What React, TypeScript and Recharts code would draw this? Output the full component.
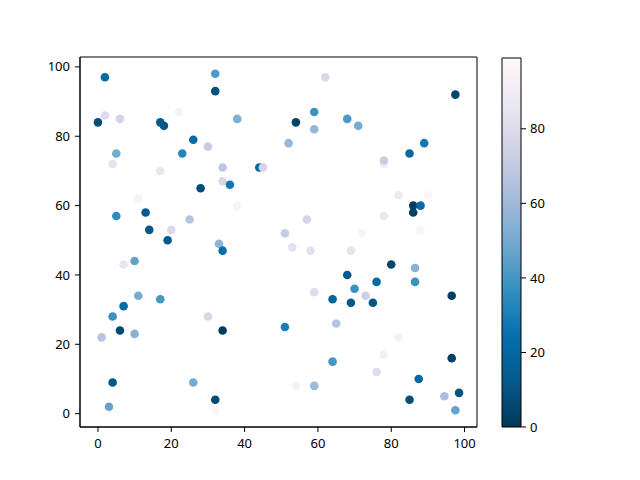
import { ScatterChart, Scatter, XAxis, YAxis, ReferenceArea, ComposedChart } from 'recharts'

// scatter positions and colour values (0..99)
const xs = [
  1.9, 32, 32, 22, 1.9, 0, 6, 17, 18, 38, 26, 30, 5, 23, 4, 34, 44, 45, 17, 34,
  36, 28, 11, 38, 5, 13, 25, 14, 20, 19, 33, 34, 7, 10, 11, 17, 7, 4, 30, 6,
  10, 1, 34, 4, 26, 32, 3, 32, 62, 97.5, 54, 59, 59, 68, 71, 52, 89, 85, 78, 78,
  82, 90, 86, 88, 86, 78, 57, 72, 88, 51, 53, 58, 69, 80, 86.5, 68, 76, 86.5, 70, 59,
  73, 64, 69, 75, 96.5, 51, 65, 82, 78, 96.5, 64, 76, 87.5, 54, 59, 98.5, 94.5, 85, 97.5,
]
const ys = [
  97, 98, 93, 87, 86, 84, 85, 84, 83, 85, 79, 77, 75, 75, 72, 71, 71, 71, 70, 67,
  66, 65, 62, 60, 57, 58, 56, 53, 53, 50, 49, 47, 43, 44, 34, 33, 31, 28, 28, 24,
  23, 22, 24, 9, 9, 4, 2, 1, 97, 92, 84, 87, 82, 85, 83, 78, 78, 75, 72, 73,
  63, 63, 60, 60, 58, 57, 56, 52, 53, 52, 48, 47, 47, 43, 42, 40, 38, 38, 36, 35,
  34, 33, 32, 32, 34, 25, 26, 22, 17, 16, 15, 12, 10, 8, 8, 6, 5, 4, 1,
]
const cs = [
  22, 42, 10, 95, 80, 8, 75, 14, 11, 53, 22, 72, 50, 33, 84, 68, 20, 76, 85, 78,
  28, 8, 94, 95, 35, 13, 66, 12, 79, 12, 57, 24, 85, 46, 50, 40, 22, 38, 77, 6,
  55, 67, 2, 12, 50, 6, 47, 98, 78, 5, 4, 38, 58, 42, 50, 58, 28, 20, 90, 72,
  88, 97, 2, 22, 3, 86, 76, 96, 96, 71, 82, 83, 84, 5, 55, 12, 20, 38, 37, 80,
  73, 17, 12, 11, 3, 30, 66, 93, 92, 3, 40, 80, 19, 93, 60, 10, 63, 8, 47,
]

const xTicks = [0, 20, 40, 60, 80, 100]
const yTicks = [0, 20, 40, 60, 80, 100]
const cbTicks = [0, 20, 40, 60, 80]

// PuBu, reversed below (low values dark)
const PUBU = ['#fff7fb', '#ece7f2', '#d0d1e6', '#a6bddb', '#74a9cf', '#3690c0', '#0570b0', '#045a8d', '#023858']
const VMAX = 99

const hex = (h: string) => [1, 3, 5].map(i => parseInt(h.slice(i, i + 2), 16))

const cmap = (v: number): string => {
  const t = 1 - Math.min(Math.max(v / VMAX, 0), 1)
  const p = t * (PUBU.length - 1)
  const i = Math.min(Math.floor(p), PUBU.length - 2)
  const f = p - i
  const a = hex(PUBU[i]), b = hex(PUBU[i + 1])
  const c = a.map((q, k) => Math.round(q + (b[k] - q) * f))
  return `rgb(${c[0]},${c[1]},${c[2]})`
}

const points = xs.map((x, i) => ({ x, y: ys[i], c: cs[i], color: cmap(cs[i]) }))

const font = '"Noto Sans", "DejaVu Sans", sans-serif'
const tickStyle = { fill: '#000', fontSize: 13, fontFamily: font }

const Dot = (props: any) => <circle cx={props.cx} cy={props.cy} r={4.3} fill={props.payload.color} />

export default function App() {
  return (
    <div style={{ position: 'fixed', left: 0, top: 0, width: 640, height: 480, background: '#fff' }}>
      <div style={{ position: 'absolute', left: 0, top: 0 }}>
        <ScatterChart width={640} height={480} margin={{ top: 57, right: 163, left: 40, bottom: 23 }}>
          <XAxis
            type="number"
            dataKey="x"
            domain={[-4.9, 103.4]}
            allowDataOverflow
            ticks={xTicks}
            tick={tickStyle}
            tickSize={5}
            tickMargin={7}
            height={30}
            stroke="#000"
          />
          <YAxis
            type="number"
            dataKey="y"
            domain={[-3.85, 102.85]}
            allowDataOverflow
            ticks={yTicks}
            tick={tickStyle}
            tickSize={5}
            tickMargin={5}
            width={40}
            stroke="#000"
          />
          <ReferenceArea x1={-4.9} x2={103.4} y1={-3.85} y2={102.85} fill="none" stroke="#000" strokeWidth={1} />
          <Scatter data={points} shape={Dot} isAnimationActive={false} />
        </ScatterChart>
      </div>
      <div style={{ position: 'absolute', left: 0, top: 0 }}>
        <ComposedChart
          width={640}
          height={480}
          data={[{ x: 0, y: 0 }, { x: 1, y: VMAX }]}
          margin={{ top: 58, right: 79, left: 502, bottom: 53 }}
        >
          <defs>
            <linearGradient id="pubu" x1="0" y1="1" x2="0" y2="0">
              {PUBU.map((col, i) => (
                <stop key={i} offset={`${(i / (PUBU.length - 1)) * 100}%`} stopColor={PUBU[PUBU.length - 1 - i]} />
              ))}
            </linearGradient>
          </defs>
          <XAxis type="number" dataKey="x" domain={[0, 1]} hide />
          <YAxis
            type="number"
            dataKey="y"
            orientation="right"
            domain={[0, VMAX]}
            ticks={cbTicks}
            tick={{ ...tickStyle, textAnchor: 'start' }}
            tickSize={5}
            tickMargin={4}
            width={40}
            axisLine={false}
            stroke="#000"
          />
          <ReferenceArea x1={0} x2={1} y1={0} y2={VMAX} fill="url(#pubu)" fillOpacity={1} stroke="#000" strokeWidth={1} />
        </ComposedChart>
      </div>
    </div>
  )
}
